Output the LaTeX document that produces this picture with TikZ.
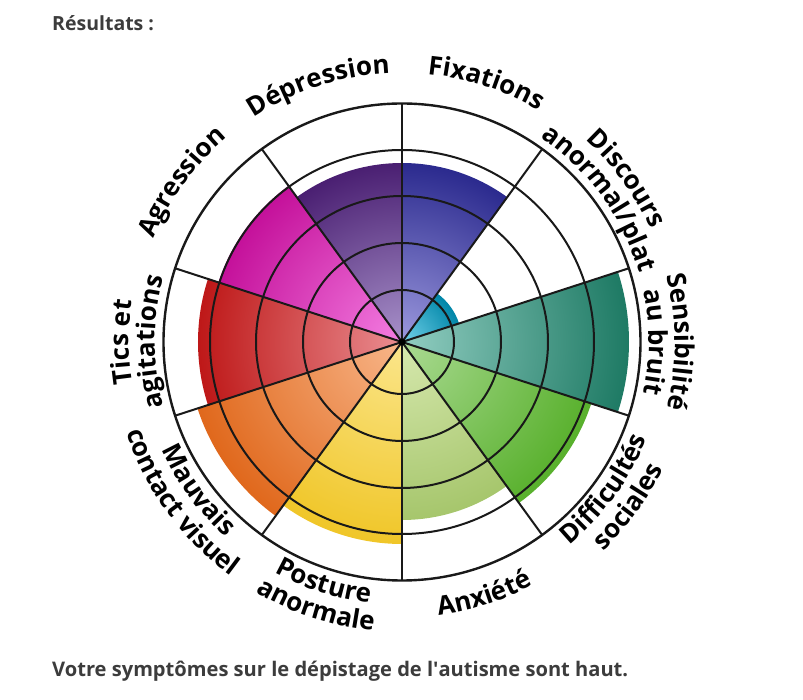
\documentclass[tikz,border=0pt]{standalone}
\usepackage{fontspec}
\setmainfont{Open Sans}
\usetikzlibrary{decorations.text}

\definecolor{txtgray}{HTML}{3C3C3C}
\definecolor{fixin}{HTML}{9C99DE}\definecolor{fixout}{HTML}{2B2A8E}
\definecolor{depin}{HTML}{A892CA}\definecolor{depout}{HTML}{4A1F72}
\definecolor{agrin}{HTML}{F47EE2}\definecolor{agrout}{HTML}{C4109A}
\definecolor{ticin}{HTML}{EA8E92}\definecolor{ticout}{HTML}{BE1818}
\definecolor{mauin}{HTML}{F8B68A}\definecolor{mauout}{HTML}{E0681C}
\definecolor{posin}{HTML}{FBE68C}\definecolor{posout}{HTML}{F0C628}
\definecolor{anxin}{HTML}{D6E8AE}\definecolor{anxout}{HTML}{A6C66C}
\definecolor{difin}{HTML}{AADA92}\definecolor{difout}{HTML}{58B02C}
\definecolor{senin}{HTML}{92CEC2}\definecolor{senout}{HTML}{1E7A64}
\definecolor{disin}{HTML}{74D2EA}\definecolor{disout}{HTML}{0086A8}

\newcommand{\lblfont}{\fontsize{26}{26}\selectfont\bfseries}
% upper labels run clockwise, lower ones anticlockwise
\newcommand{\toplabel}[3]{\path[decorate,decoration={text along path,text align=center,text={|\lblfont|#3}}]
  (O) ++({#1+60}:#2) arc[start angle={#1+60},end angle={#1-60},radius=#2];}
\newcommand{\botlabel}[3]{\path[decorate,decoration={text along path,text align=center,text={|\lblfont|#3}}]
  (O) ++({#1-60}:#2) arc[start angle={#1-60},end angle={#1+60},radius=#2];}

\tikzset{
  ring/.style={line width=2pt,black!90},
  rim/.style={line width=2.4pt,black!90},
  caption/.style={anchor=base west,inner sep=0pt,text=txtgray,font=\fontsize{19.5}{22}\selectfont\bfseries}
}

\begin{document}
\begin{tikzpicture}[x=1pt,y=1pt]
  \useasboundingbox (-402,-358) rectangle (401,342);
  \coordinate (O) at (0,0);

  % coloured sectors
  \foreach \a/\r/\ci/\co [count=\i] in {54/179/fixin/fixout, 90/179/depin/depout,
      126/193/agrin/agrout, 162/204/ticin/ticout, 198/215/mauin/mauout,
      234/202/posin/posout, 270/178/anxin/anxout, 306/199/difin/difout,
      342/227/senin/senout, 18/60/disin/disout} {
    \pgfdeclareradialshading{petal\i}{\pgfpoint{0bp}{0bp}}{color(0bp)=(\ci); color(25bp)=(\co); color(50bp)=(\co)}
    \begin{scope}
      \clip (O) -- ++(\a:\r) arc[start angle=\a,delta angle=36,radius=\r] -- cycle;
      \shade[shading=petal\i] (O) circle (\r);
    \end{scope}
  }

  % grid
  \foreach \r in {52,99,146,192}
    \draw[ring] (O) circle (\r);
  \foreach \a in {18,54,...,342}
    \draw[ring] (O) -- ++(\a:238.5);
  \draw[rim] (O) circle (238.5);
  \fill (O) circle (3.5);

  % labels
  \toplabel{72}{269}{Fixations}
  \toplabel{108}{269}{Dépression}
  \toplabel{144}{269}{Agression}
  \toplabel{36}{273}{Discours}
  \toplabel{36}{247}{anormal/plat}
  \toplabel{0}{273}{Sensibilité}
  \toplabel{0}{247}{au bruit}
  \toplabel{180}{273}{Tics et}
  \toplabel{180}{247}{agitations}
  \botlabel{-72}{276}{Anxiété}
  \botlabel{-36}{263}{Difficultés}
  \botlabel{-36}{290}{sociales}
  \botlabel{-108}{263}{Posture}
  \botlabel{-108}{290}{anormale}
  \botlabel{-144}{263}{Mauvais}
  \botlabel{-144}{290}{contact visuel}

  \node[caption] (title) at (-350,311) {Résultats :};
  \node[caption,font=\fontsize{20.1}{22}\selectfont\bfseries] (verdict) at (-350,-335)
    {Votre symptômes sur le dépistage de l\textquotesingle autisme sont haut.};
\end{tikzpicture}
\end{document}
